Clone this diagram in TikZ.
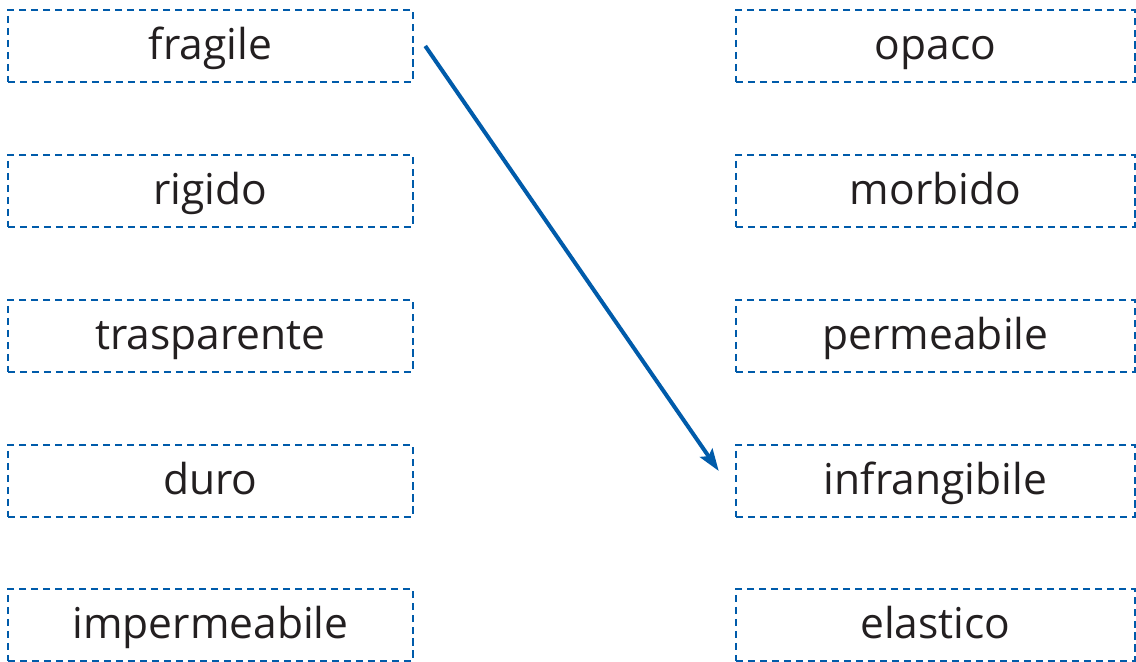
\documentclass[tikz,border=0pt]{standalone}
\usepackage{fontspec}
\setmainfont{Open Sans}
\usetikzlibrary{arrows.meta}
\definecolor{boxblue}{HTML}{005BAA}
\definecolor{wordgray}{HTML}{231F20}

\begin{document}
\begin{tikzpicture}
\tikzset{word/.style={draw=boxblue, line width=0.025cm, dash pattern=on 0.075cm off 0.045cm,
  minimum height=0.72cm, inner sep=0pt, text height=0.38cm, text depth=0.10cm,
  text=wordgray, font=\fontsize{12.1}{14}\selectfont}}
\useasboundingbox (0,0) rectangle (11.36,6.62);

\node at (2.105, 6.16)[word, minimum width=4.05cm] (fragile) {fragile};
\node at (2.105, 4.71)[word, minimum width=4.05cm] (rigido) {rigido};
\node at (2.105, 3.26)[word, minimum width=4.05cm] (trasparente) {trasparente};
\node at (2.105, 1.81)[word, minimum width=4.05cm] (duro) {duro};
\node at (2.105, 0.37)[word, minimum width=4.05cm] (impermeabile) {impermeabile};

\node at (9.355, 6.16)[word, minimum width=3.99cm] (opaco) {opaco};
\node at (9.355, 4.71)[word, minimum width=3.99cm] (morbido) {morbido};
\node at (9.355, 3.26)[word, minimum width=3.99cm] (permeabile) {permeabile};
\node at (9.355, 1.81)[word, minimum width=3.99cm] (infrangibile) {infrangibile};
\node at (9.355, 0.37)[word, minimum width=3.99cm] (elastico) {elastico};

\draw[boxblue, line width=0.04cm, -{Stealth[length=0.22cm, width=0.15cm, inset=0.04cm]}]
  ([xshift=0.11cm]fragile.east) -- ([xshift=-0.16cm, yshift=0.1cm]infrangibile.west);
\end{tikzpicture}
\end{document}
